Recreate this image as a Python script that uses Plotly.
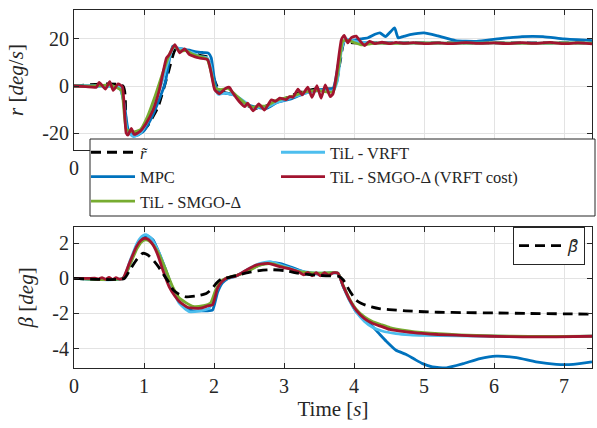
import plotly.graph_objects as go

# ---------------- data: yaw rate r [deg/s] ----------------
t_rref = [0, 0.7, 0.76, 0.95, 1.05, 1.2, 1.35, 1.45, 1.6, 1.8, 1.93, 2.0, 2.08, 2.3, 2.45, 2.6, 2.8, 3.0, 3.2, 3.5, 3.72, 3.8, 3.86, 4.0, 4.5, 5, 6, 7, 7.4]
r_ref = [0, 0, -19.5, -20, -17, -9, 6, 15.5, 15, 13, 12, 3, -2, -4, -8, -9.5, -8, -5.5, -3, -1, -1, 10, 18.5, 18.3, 18.3, 18.3, 18.3, 18.3, 18.3]

t_r_mpc = [0, 0.3, 0.5, 0.65, 0.72, 0.78, 0.9, 1.0, 1.1, 1.2, 1.3, 1.41, 1.47, 1.55, 1.65, 1.75, 1.85, 1.92, 1.96, 2.0, 2.05, 2.15, 2.3, 2.45, 2.6, 2.75, 2.9, 3.1, 3.3, 3.5, 3.7, 3.78, 3.84, 3.9, 4.0, 4.1, 4.2, 4.3, 4.37, 4.45, 4.52, 4.58, 4.63, 4.7, 4.8, 5.0, 5.2, 5.45, 5.75, 6.05, 6.4, 6.7, 7.0, 7.4]
r_mpc = [0, 0, 0, -0.5, -8, -19, -21, -19, -14, -7, 1, 16.9, 16, 15.8, 15.2, 14.5, 14.2, 14, 12, 4, -2, -3, -4, -7.5, -9, -9.5, -7, -5.5, -3, -1.5, -1, 10, 18.5, 19.5, 19.5, 20, 20.5, 22, 22.6, 21, 23, 24.7, 20.5, 21, 21.8, 22.6, 21.3, 19.3, 19, 20, 21, 21, 20, 19.3]

t_r_vrft = [0, 0.3, 0.5, 0.65, 0.7, 0.76, 0.85, 0.95, 1.05, 1.15, 1.25, 1.35, 1.42, 1.5, 1.6, 1.7, 1.8, 1.9, 1.95, 2.0, 2.06, 2.15, 2.3, 2.45, 2.55, 2.65, 2.75, 2.9, 3.1, 3.3, 3.5, 3.7, 3.76, 3.82, 3.88, 3.95, 4.05, 4.15, 4.3, 4.6, 5, 5.5, 6, 6.5, 7, 7.4]
r_vrft = [0, 0, 0, -0.5, -5, -19, -21.5, -20, -15, -8, 1, 11, 16.5, 16, 15, 14, 12.5, 12, 9, 0, -3.5, -3, -4, -7, -9.5, -9, -9, -7, -5, -3, -2, -2, 2, 15, 20, 19.5, 18.8, 18.5, 18.3, 18.2, 18.3, 18.2, 18.3, 18.2, 18.3, 18.2]

t_r_smgo = [0, 0.3, 0.5, 0.6, 0.68, 0.75, 0.85, 0.95, 1.05, 1.15, 1.25, 1.35, 1.43, 1.5, 1.6, 1.7, 1.8, 1.9, 1.95, 2.02, 2.1, 2.2, 2.3, 2.45, 2.55, 2.65, 2.75, 2.9, 3.1, 3.3, 3.5, 3.7, 3.78, 3.84, 3.9, 4.0, 4.1, 4.2, 4.3, 4.6, 5, 5.5, 6, 6.5, 7, 7.4]
r_smgo = [0, 0, 0.5, -0.5, -2, -18.5, -19.5, -18.5, -13, -5, 4, 12.5, 17, 15, 15, 13.5, 12.5, 11.5, 7, -1, -1.5, -1, -3.5, -7.5, -9, -8.5, -8.5, -6, -4.5, -2.5, -2, -2.5, 8, 19, 19.5, 18.5, 17.5, 17.8, 18.2, 18.1, 18.3, 18.2, 18.3, 18.1, 18.3, 18.2]

t_r_cost = [0, 0.17, 0.32, 0.36, 0.45, 0.51, 0.56, 0.63, 0.69, 0.745, 0.77, 0.82, 0.86, 0.94, 1.03, 1.13, 1.22, 1.32, 1.36, 1.44, 1.51, 1.58, 1.65, 1.72, 1.79, 1.91, 1.96, 2.01, 2.08, 2.17, 2.22, 2.27, 2.36, 2.44, 2.48, 2.56, 2.64, 2.72, 2.82, 2.88, 2.94, 3.03, 3.08, 3.13, 3.2, 3.26, 3.34, 3.4, 3.47, 3.53, 3.59, 3.66, 3.7, 3.75, 3.82, 3.86, 3.91, 3.96, 4.03, 4.09, 4.15, 4.22, 4.3, 4.4, 4.5, 4.6, 4.7, 4.85, 5.0, 5.2, 5.4, 5.6, 5.8, 6.0, 6.2, 6.4, 6.6, 6.8, 7.0, 7.2, 7.4]
r_cost = [0, -0.3, -0.5, 1.5, -1.3, 1.9, -1.9, 0.9, -0.3, -20, -20.9, -18, -20.6, -19.4, -15.9, -10.2, -1.6, 11.9, 13.3, 17.6, 14.1, 15.8, 13.3, 12.5, 11.9, 11.2, 5.5, -1.6, -3.3, -0.9, -0.5, -3, -6.6, -8.8, -7.3, -10.6, -7.6, -10.2, -5.9, -6.5, -5.2, -5.8, -4.5, -4.8, -1.3, -3.8, -0.5, -4.8, 0.1, -5.2, 0.5, -4.5, -3.3, 5, 19.7, 21.5, 18.3, 20.5, 21.2, 19, 17.2, 19, 18.0, 18.6, 18.0, 18.5, 18.1, 18.4, 18.0, 18.3, 18.0, 18.4, 18.1, 18.3, 18.0, 18.4, 18.1, 18.5, 18.0, 18.3, 17.9]

# ---------------- data: sideslip beta [deg] ----------------
t_bref = [0, 0.72, 0.8, 0.9, 0.98, 1.05, 1.13, 1.2, 1.27, 1.35, 1.42, 1.5, 1.6, 1.75, 1.89, 1.97, 2.03, 2.1, 2.2, 2.35, 2.5, 2.65, 2.8, 3.0, 3.2, 3.4, 3.6, 3.78, 3.85, 3.9, 3.96, 4.03, 4.1, 4.17, 4.25, 4.36, 4.5, 4.74, 5.0, 5.2, 5.6, 6.0, 6.5, 7.0, 7.4]
b_ref = [0, 0, 0.5, 1.1, 1.43, 1.35, 1.05, 0.7, 0.28, -0.2, -0.67, -0.9, -1.05, -1.0, -0.86, -0.6, -0.29, -0.05, 0.05, 0.2, 0.35, 0.45, 0.5, 0.45, 0.3, 0.2, 0.15, 0.12, -0.1, -0.45, -0.85, -1.24, -1.42, -1.53, -1.62, -1.72, -1.78, -1.85, -1.9, -1.93, -1.95, -1.97, -2.0, -2.02, -2.04]

t_b_mpc = [0, 0.7, 0.8, 0.9, 1.0, 1.05, 1.13, 1.2, 1.3, 1.4, 1.5, 1.6, 1.7, 1.8, 1.9, 1.98, 2.05, 2.12, 2.2, 2.35, 2.5, 2.65, 2.8, 2.95, 3.1, 3.3, 3.5, 3.77, 3.84, 3.94, 4.03, 4.15, 4.27, 4.37, 4.47, 4.6, 4.74, 4.86, 4.98, 5.12, 5.32, 5.56, 5.8, 6.03, 6.32, 6.6, 6.89, 7.13, 7.4]
b_mpc = [0, 0, 0.8, 1.9, 2.35, 2.42, 2.2, 1.6, 0.6, -0.5, -1.3, -1.7, -1.85, -1.85, -1.85, -1.8, -0.8, -0.25, 0.0, 0.2, 0.5, 0.75, 0.9, 0.85, 0.65, 0.35, 0.25, 0.3, -0.4, -1.25, -1.9, -2.35, -2.76, -3.2, -3.62, -4.1, -4.33, -4.6, -4.86, -5.05, -5.1, -4.86, -4.57, -4.43, -4.52, -4.76, -4.9, -4.9, -4.76]

t_b_vrft = [0, 0.7, 0.8, 0.9, 0.97, 1.03, 1.1, 1.2, 1.3, 1.4, 1.5, 1.65, 1.8, 1.93, 2.0, 2.07, 2.15, 2.3, 2.5, 2.65, 2.8, 3.0, 3.2, 3.5, 3.77, 3.84, 3.94, 4.03, 4.15, 4.27, 4.4, 4.6, 4.8, 5.0, 5.5, 6.0, 6.5, 7.0, 7.4]
b_vrft = [0, 0, 1.0, 2.0, 2.4, 2.5, 2.3, 1.6, 0.6, -0.5, -1.4, -1.9, -1.85, -1.7, -1.1, -0.4, -0.05, 0.1, 0.55, 0.85, 0.95, 0.7, 0.45, 0.3, 0.3, -0.4, -1.3, -1.9, -2.45, -2.8, -3.0, -3.15, -3.22, -3.25, -3.27, -3.3, -3.32, -3.32, -3.3]

t_b_smgo = [0, 0.7, 0.8, 0.9, 0.97, 1.03, 1.1, 1.2, 1.3, 1.4, 1.5, 1.7, 1.85, 1.95, 2.02, 2.1, 2.2, 2.35, 2.5, 2.65, 2.8, 3.0, 3.2, 3.5, 3.77, 3.84, 3.94, 4.03, 4.15, 4.27, 4.4, 4.51, 4.75, 5.0, 5.5, 6.0, 6.5, 7.0, 7.4]
b_smgo = [0, 0, 0.8, 1.7, 2.1, 2.2, 2.05, 1.5, 0.6, -0.4, -1.1, -1.6, -1.55, -1.4, -0.7, -0.15, 0.05, 0.2, 0.45, 0.75, 0.85, 0.65, 0.4, 0.3, 0.3, -0.35, -1.2, -1.75, -2.2, -2.47, -2.65, -2.8, -2.98, -3.1, -3.22, -3.28, -3.31, -3.31, -3.29]

t_b_cost = [0, 0.1, 0.2, 0.3, 0.35, 0.4, 0.45, 0.5, 0.55, 0.6, 0.65, 0.7, 0.79, 0.89, 0.95, 1.01, 1.07, 1.13, 1.2, 1.27, 1.36, 1.44, 1.51, 1.63, 1.8, 1.91, 1.98, 2.05, 2.11, 2.17, 2.31, 2.46, 2.6, 2.77, 2.94, 3.08, 3.22, 3.28, 3.34, 3.4, 3.46, 3.52, 3.58, 3.64, 3.7, 3.77, 3.84, 3.94, 4.03, 4.15, 4.27, 4.4, 4.51, 4.75, 4.98, 5.2, 5.46, 5.94, 6.41, 6.89, 7.4]
b_cost = [0, 0, 0, 0.02, -0.04, 0.05, -0.05, 0.06, -0.06, 0.04, -0.04, 0.0, 0.86, 1.8, 2.15, 2.29, 2.2, 1.9, 1.3, 0.47, -0.48, -1.0, -1.34, -1.66, -1.7, -1.57, -1.5, -0.57, -0.2, 0.0, 0.13, 0.47, 0.76, 0.86, 0.67, 0.55, 0.35, 0.2, 0.35, 0.15, 0.33, 0.15, 0.33, 0.17, 0.32, 0.3, -0.38, -1.24, -1.81, -2.29, -2.57, -2.75, -2.91, -3.05, -3.14, -3.2, -3.24, -3.3, -3.33, -3.33, -3.3]

# tick labels
x_ticks = [0, 1, 2, 3, 4, 5, 6, 7]
x_ticktext = ["0", "1", "2", "3", "4", "5", "6", "7"]
x_ticktext_top = ["0", "", "", "", "", "", "", ""]  # the rest lie under the legend
r_ticks = [-20, 0, 20]
r_ticktext = ["-20", "0", "20"]
b_ticks = [-4, -2, 0, 2]
b_ticktext = ["-4", "-2", "0", "2"]

# ---------------- styling ----------------
C_MPC = "#0072BD"
C_VRFT = "#4DBEEE"
C_SMGO = "#77AC30"
C_COST = "#A2142F"
AX = "#262626"
GRID = "#e3e3e3"
SERIF = "Liberation Serif"
LW = 2.8
DASH = "10px,6px"
LEGF = 16.5

fig = go.Figure()

top = dict(xaxis="x", yaxis="y", mode="lines", line_shape="spline")
bot = dict(xaxis="x2", yaxis="y2", mode="lines", line_shape="spline")
sm = 0.5

# top plot
fig.add_trace(go.Scatter(x=t_rref, y=r_ref, name="<i>r̃</i>", legend="legend", legendrank=1,
                         line=dict(color="black", width=LW, dash=DASH, smoothing=sm), **top))
fig.add_trace(go.Scatter(x=t_r_mpc, y=r_mpc, name="MPC", legend="legend", legendrank=2,
                         line=dict(color=C_MPC, width=LW, smoothing=sm), **top))
fig.add_trace(go.Scatter(x=t_r_vrft, y=r_vrft, name="TiL - VRFT", legend="legend3", legendrank=1,
                         line=dict(color=C_VRFT, width=LW, smoothing=sm), **top))
fig.add_trace(go.Scatter(x=t_r_smgo, y=r_smgo, name="TiL - SMGO-Δ", legend="legend", legendrank=3,
                         line=dict(color=C_SMGO, width=LW, smoothing=sm), **top))
fig.add_trace(go.Scatter(x=t_r_cost, y=r_cost, name="TiL - SMGO-Δ (VRFT cost)", legend="legend3",
                         legendrank=2,
                         line=dict(color=C_COST, width=LW, smoothing=sm), **top))

# bottom plot
fig.add_trace(go.Scatter(x=t_b_mpc, y=b_mpc, showlegend=False,
                         line=dict(color=C_MPC, width=LW, smoothing=sm), **bot))
fig.add_trace(go.Scatter(x=t_b_vrft, y=b_vrft, showlegend=False,
                         line=dict(color=C_VRFT, width=LW, smoothing=sm), **bot))
fig.add_trace(go.Scatter(x=t_b_smgo, y=b_smgo, showlegend=False,
                         line=dict(color=C_SMGO, width=LW, smoothing=sm), **bot))
fig.add_trace(go.Scatter(x=t_b_cost, y=b_cost, showlegend=False,
                         line=dict(color=C_COST, width=LW, smoothing=sm), **bot))
fig.add_trace(go.Scatter(x=t_bref, y=b_ref, name="<i>β\u0303</i>", legend="legend2",
                         line=dict(color="black", width=LW, dash=DASH, smoothing=sm), **bot))

# layout geometry (pixels -> paper)
W, H = 597, 428
ML, MR, MT, MB = 74, 5, 10, 60
PW, PH = W - ML - MR, H - MT - MB


def px(xp):
    return (xp - ML) / PW


def py(yp):
    return (H - MB - yp) / PH


axis_common = dict(showline=True, linecolor=AX, linewidth=1, mirror="ticks",
                   ticks="inside", ticklen=5, tickcolor=AX, tickwidth=1,
                   showgrid=True, gridcolor=GRID, gridwidth=1, zeroline=False,
                   tickfont=dict(family=SERIF, size=20, color=AX))

leg_common = dict(orientation="v", xanchor="left", yanchor="top",
                  bgcolor="rgba(0,0,0,0)", borderwidth=0, itemwidth=44,
                  font=dict(family=SERIF, size=LEGF, color=AX), traceorder="normal",
                  tracegroupgap=0)

fig.update_layout(
    width=W, height=H,
    margin=dict(l=ML, r=MR, t=MT, b=MB),
    paper_bgcolor="white", plot_bgcolor="white",
    xaxis=dict(domain=[0, 1], range=[0, 7.4], tickvals=x_ticks, ticktext=x_ticktext_top,
               anchor="y", **axis_common),
    yaxis=dict(domain=[py(150), 1], range=[-27.2, 32.3], tickvals=r_ticks, ticktext=r_ticktext,
               anchor="x",
               title=dict(text="<i>r</i> [<i>deg</i>/<i>s</i>]",
                          font=dict(family=SERIF, size=21, color=AX), standoff=12),
               **axis_common),
    xaxis2=dict(domain=[0, 1], range=[0, 7.4], tickvals=x_ticks, ticktext=x_ticktext, anchor="y2",
                title=dict(text="Time [<i>s</i>]", font=dict(family=SERIF, size=21, color=AX), standoff=4),
                **axis_common),
    yaxis2=dict(domain=[0, py(226.7)], range=[-5.11, 2.95], tickvals=b_ticks, ticktext=b_ticktext,
                anchor="x2",
                title=dict(text="<i>β</i> [<i>deg</i>]",
                           font=dict(family=SERIF, size=21, color=AX), standoff=12),
                **axis_common),
    legend=dict(x=px(86), y=py(135), **leg_common),
    legend3=dict(x=px(276), y=py(135), **leg_common),
    legend2=dict(x=px(585), y=py(227), xanchor="right", yanchor="top",
                 bgcolor="white", bordercolor=AX, borderwidth=1, itemwidth=44,
                 font=dict(family="Noto Sans", size=17, color=AX)),
    shapes=[dict(type="rect", xref="paper", yref="paper",
                 x0=px(90), x1=px(595), y0=py(216), y1=py(139),
                 line=dict(color=AX, width=1), fillcolor="white", layer="above")],
)

fig.write_html("out.html")
